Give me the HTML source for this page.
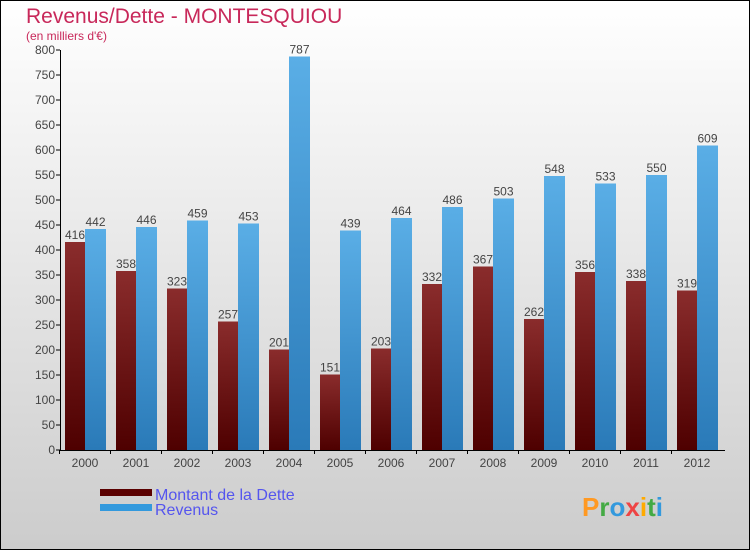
<!DOCTYPE html>
<html><head><meta charset="utf-8"><style>body{margin:0}svg{display:block;font-family:"Liberation Sans",sans-serif}</style></head>
<body>
<svg width="750" height="550" viewBox="0 0 750 550">
<defs>
<linearGradient id="bg" x1="0" y1="0" x2="0" y2="1"><stop offset="0" stop-color="#ffffff"/><stop offset="1" stop-color="#cccccc"/></linearGradient>
<linearGradient id="gd" x1="0" y1="0" x2="0" y2="1"><stop offset="0" stop-color="#8a2c2c"/><stop offset="1" stop-color="#4e0000"/></linearGradient>
<linearGradient id="gr" x1="0" y1="0" x2="0" y2="1"><stop offset="0" stop-color="#5aaee6"/><stop offset="1" stop-color="#2a7ab8"/></linearGradient>
</defs>
<rect x="0.5" y="0.5" width="749" height="549" fill="url(#bg)" stroke="#000"/>
<text x="26" y="23" font-size="21" fill="#c8285a">Revenus/Dette - MONTESQUIOU</text>
<text x="26" y="40" font-size="12" fill="#c8285a">(en milliers d'€)</text>
<g id="plot"></g>
<g>
<rect x="100" y="489" width="52" height="7" fill="#5a0000"/>
<text x="155" y="500" font-size="16" fill="#5555ee">Montant de la Dette</text>
<rect x="100" y="504" width="52" height="7" fill="#3399dd"/>
<text x="155" y="515" font-size="16" fill="#5555ee">Revenus</text>
</g>
<text x="582" y="516" font-size="26" font-weight="bold" fill="#3399dd"><tspan fill="#ff9922">P</tspan><tspan fill="#44aa44">r</tspan><tspan fill="#3399dd">o</tspan><tspan fill="#ee4444">x</tspan><tspan fill="#ffaa00">i</tspan><tspan fill="#44aa44">t</tspan><tspan fill="#3399dd">i</tspan></text>
</svg>
<script>
const years=["2000","2001","2002","2003","2004","2005","2006","2007","2008","2009","2010","2011","2012"];
const dette=[416,358,323,257,201,151,203,332,367,262,356,338,319];
const revenus=[442,446,459,453,787,439,464,486,503,548,533,550,609];
const yTicks=[0,50,100,150,200,250,300,350,400,450,500,550,600,650,700,750,800];
const NS="http://www.w3.org/2000/svg";
const g=document.getElementById('plot');
const y=v=>450-v*0.5;
const xc=i=>85+i*51;
function mk(t,a,txt){const e=document.createElementNS(NS,t);for(const k in a)e.setAttribute(k,a[k]);if(txt!==undefined)e.textContent=txt;g.appendChild(e);return e;}
years.forEach((yr,i)=>{
 let r=mk('rect',{x:xc(i)-20,y:y(dette[i]),width:20,height:dette[i]*0.5,fill:'url(#gd)'});
 
 
 let r2=mk('rect',{x:xc(i),y:y(revenus[i]),width:21,height:revenus[i]*0.5,fill:'url(#gr)'});
 
 
 let t=mk('text',{x:xc(i)-10,y:y(dette[i])-3,'font-size':12,fill:'#444','text-anchor':'middle'},String(dette[i]));
 
 
 let t2=mk('text',{x:xc(i)+10.5,y:y(revenus[i])-3,'font-size':12,fill:'#444','text-anchor':'middle'},String(revenus[i]));
 
 
 let xl=mk('text',{x:xc(i),y:467,'font-size':12,fill:'#444','text-anchor':'middle'},yr);
 
 
 let tk=mk('line',{x1:xc(i)-25.5,x2:xc(i)-25.5,y1:450,y2:454,stroke:'#000'});
 
 
});
yTicks.forEach(v=>{
 let l=mk('line',{x1:56,x2:60,y1:y(v),y2:y(v),stroke:'#000'});
 
 
 let t=mk('text',{x:55,y:y(v)+4,'font-size':12,fill:'#444','text-anchor':'end'},String(v));
 
 
});
let ax=mk('line',{x1:60.5,x2:60.5,y1:50,y2:450,stroke:'#000'});


let ax2=mk('line',{x1:60,x2:725,y1:450.5,y2:450.5,stroke:'#000'});


</script>
</body></html>
